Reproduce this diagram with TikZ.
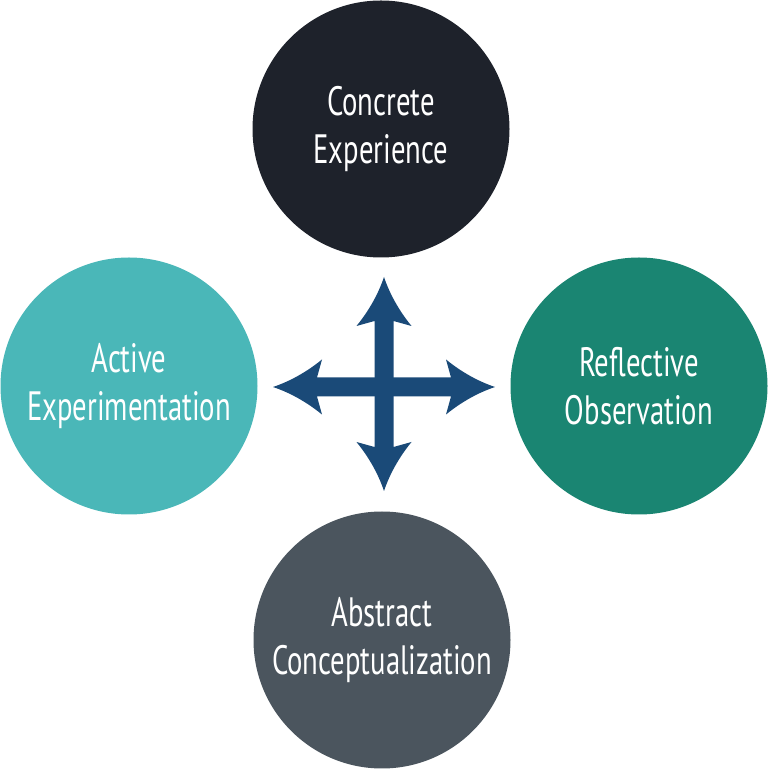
\documentclass[tikz,border=0pt]{standalone}
\usepackage{fontspec}
\setmainfont{PT Sans}[FakeStretch=0.7]
\definecolor{cTop}{HTML}{1E222B}
\definecolor{cLeft}{HTML}{4AB7B8}
\definecolor{cRight}{HTML}{1A8572}
\definecolor{cBottom}{HTML}{4B555E}
\definecolor{cArrow}{HTML}{1A4A78}
\tikzset{
  stage/.style={circle, inner sep=0pt, minimum size=257pt, text=white, align=center,
    font=\fontsize{41}{48}\selectfont},
}
\begin{document}
\begin{tikzpicture}[x=1pt,y=1pt]
\useasboundingbox (0,0) rectangle (768,769);
\node[stage, fill=cTop] (ce) at (381,640) {Concrete\\Experience};
\node[stage, fill=cLeft] (ae) at (129,383) {Active\\Experimentation};
\node[stage, fill=cRight] (ro) at (639,383) {Reflective\\Observation};
\node[stage, fill=cBottom] (ac) at (382,129) {Abstract\\Conceptualization};
\foreach \ang/\L in {90/110, 270/104, 180/111, 0/111}{
  \fill[cArrow, shift={(384,382)}, rotate=\ang]
    (0,-9.5) -- (\L-44,-9.5) -- (\L-49,-27.5)
    .. controls (\L-30,-12) and (\L-12,-4) .. (\L,0)
    .. controls (\L-12,4) and (\L-30,12) .. (\L-49,27.5)
    -- (\L-44,9.5) -- (0,9.5) -- cycle;
}
\end{tikzpicture}
\end{document}
